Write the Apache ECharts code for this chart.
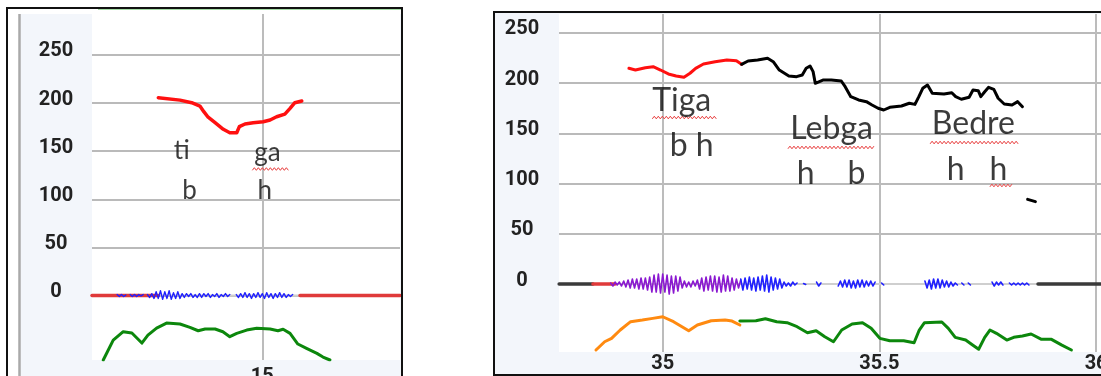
<!DOCTYPE html>
<html><head><meta charset="utf-8">
<script src="https://cdn.jsdelivr.net/npm/echarts@6/dist/echarts.min.js"></script>
<style>html,body{margin:0;padding:0;background:#fff}#c{width:1101px;height:376px}</style>
</head><body><div id="c"></div>
<script>
// ---------------- data ----------------
const yTicks = [0, 50, 100, 150, 200, 250];
const leftXTicks = [15];
const rightXTicks = [35, 35.5, 36];

// left panel (time s, Hz)
const leftPitch = [[14.760,205.6],[14.810,203.1],[14.837,200.4],[14.856,196.9],[14.865,191.1],[14.875,185.3],[14.891,179.6],[14.910,172.8],[14.925,169.2],[14.941,169.2],[14.947,175.5],[14.960,178.3],[14.979,179.6],[15.002,180.6],[15.018,182.4],[15.033,185.8],[15.052,188.6],[15.064,194.5],[15.075,200.4],[15.091,202.2]];
const leftIntensity = [[14.633,-67.0],[14.656,-46.3],[14.679,-37.6],[14.699,-39.0],[14.722,-49.4],[14.736,-41.1],[14.756,-33.8],[14.779,-28.6],[14.810,-29.6],[14.833,-33.1],[14.852,-36.6],[14.868,-34.8],[14.891,-34.8],[14.909,-37.6],[14.925,-42.8],[14.941,-39.3],[14.964,-35.9],[14.987,-34.1],[15.018,-34.8],[15.036,-36.6],[15.048,-35.1],[15.064,-39.3],[15.082,-50.4],[15.102,-54.9],[15.126,-60.1],[15.140,-63.9],[15.156,-67.0]];
const leftBaselineFull = [[14.607,15.318]];
const leftBaselineRed = [[14.607,14.760],[15.087,15.318]];
const leftWaveStart = 14.665, leftWaveStep = 0.005;
const leftWave = [1,-1,1,-1,0.5,null,1,-1,1,-1,1,-0.5,1,
  null,1,-2,2,
  -3,4,-3,5,-4,4,-3,5,-4,3,-3,4,-3,
  2,-2,2,-1,2,-2,1,-2,2,
  -2,2,-1,2,-2,1,-1,2,-2,1,-1,2,-1,1,
  null,null,1,
  -2,2,-2,3,-2,2,-3,2,-2,3,-2,2,-3,3,-2,2,-3,2,-2,3,-2,2,-2,1,-1,1];
const leftWords = [
  {t:14.815, v:150.0, text:'ti'},
  {t:15.013, v:148.0, text:'ga'},
  {t:14.833, v:108.5, text:'b'},
  {t:15.007, v:108.5, text:'h'}
];
const leftUnderlines = [[14.977, 15.062, 131.5]];

// right panel
const rightPitchRed = [[34.922,214.8],[34.937,213.1],[34.960,215.4],[34.978,216.4],[34.995,213.1],[35.013,209.2],[35.031,207.2],[35.049,205.9],[35.063,209.9],[35.076,214.8],[35.094,219.1],[35.121,221.4],[35.148,223.1],[35.170,222.4],[35.182,218.8]];
const rightPitchBlack = [[35.182,218.8],[35.197,222.1],[35.219,223.1],[35.242,224.8],[35.255,221.4],[35.269,213.1],[35.291,207.2],[35.309,206.5],[35.322,208.2],[35.331,214.8],[35.340,217.1],[35.347,211.5],[35.352,199.9],[35.371,203.2],[35.389,203.2],[35.412,202.2],[35.421,196.5],[35.434,186.6],[35.452,183.3],[35.470,181.6],[35.483,178.3],[35.497,175.0],[35.510,173.3],[35.524,176.0],[35.551,177.3],[35.569,180.0],[35.582,178.9],[35.591,186.6],[35.600,194.9],[35.611,198.2],[35.622,190.0],[35.649,189.2],[35.667,190.5],[35.676,186.6],[35.689,184.0],[35.707,186.0],[35.716,193.2],[35.728,192.5],[35.734,186.6],[35.743,191.5],[35.752,195.9],[35.764,193.9],[35.774,185.0],[35.788,179.3],[35.806,178.3],[35.819,181.6],[35.830,176.6]];
const rightPitchDash = [[35.842,84.3],[35.860,82.0]];
const rightIntensityOrange = [[34.846,-65.7],[34.866,-57.5],[34.882,-54.1],[34.902,-45.8],[34.926,-37.5],[34.953,-35.9],[34.977,-34.2],[35.000,-32.6],[35.025,-37.5],[35.060,-46.5],[35.080,-40.8],[35.112,-36.6],[35.144,-35.9],[35.160,-36.9],[35.178,-40.8]];
const rightIntensityGreen = [[35.178,-36.9],[35.215,-36.6],[35.237,-34.6],[35.263,-37.5],[35.287,-38.5],[35.310,-42.5],[35.334,-48.5],[35.354,-46.5],[35.374,-52.5],[35.394,-57.5],[35.413,-45.8],[35.437,-39.8],[35.461,-38.5],[35.481,-44.1],[35.501,-54.1],[35.524,-56.5],[35.556,-56.5],[35.580,-58.5],[35.592,-45.8],[35.604,-38.5],[35.644,-37.8],[35.659,-44.1],[35.675,-53.1],[35.699,-55.8],[35.715,-60.8],[35.729,-65.0],[35.743,-53.1],[35.755,-45.8],[35.770,-49.1],[35.794,-55.8],[35.810,-53.1],[35.830,-51.8],[35.850,-49.8],[35.874,-55.1],[35.897,-55.1],[35.921,-60.8],[35.943,-65.7]];
const rightBaselineFull = [[34.761,36.02]];
const rightBaselineDark = [[34.761,34.839],[35.866,36.02]];
const rightBaselineRed = [[34.839,34.890]];
const rightPurpleStart = 34.880, rightPurpleStep = 0.005;
const rightPurpleWave = [1,-2,2,-1,2,-2,3,
  -3,4,-4,5,-4,5,-5,6,-5,6,-6,7,
  -8,9,-8,10,-9,10,-8,9,-10,8,-9,8,-7,7,
  -4,3,-3,2,-3,3,-2,4,
  -5,6,-7,7,-6,8,-7,8,-8,7,-8,9,-7,8,-7,6,-6,
  5,-4,4];
const rightBlueStart = 35.180, rightBlueStep = 0.005;
const rightBlueWave = [5,-6,6,-5,7,-6,6,-7,7,-6,8,-7,9,-8,7,-6,6,-5,5,-4,
  2,-2,1,-2,2,-1,1,
  null,null,0.5,-0.5,null,null,null,null,
  2,-2,1,
  null,null,null,null,null,null,null,
  -2,3,-3,4,-3,4,-4,3,-4,4,-3,4,-3,3,-2,3,-2,2,
  null,null,
  1,-1,
  null,null,null,null,null,null,null,null,null,null,null,null,null,null,null,null,null,null,
  3,-4,4,-5,5,-4,5,-4,4,-3,3,-3,2,-2,
  1,-1,null,1,-1,null,1,-1,
  null,null,null,null,null,null,null,null,null,
  2,-2,2,-1,2,-1,
  null,null,
  1,-1,1,-1,1,-1,1,-1,1,-1,
  null,null,null,null];
const rightWords = [
  {t:35.045, v:181.6, text:'Tiga'},
  {t:35.068, v:136.8, text:'b h'},
  {t:35.391, v:153.7, text:'Lebga'},
  {t:35.331, v:108.9, text:'h'},
  {t:35.448, v:108.9, text:'b'},
  {t:35.718, v:158.7, text:'Bedre'},
  {t:35.677, v:113.8, text:'h'},
  {t:35.776, v:113.8, text:'h'}
];
const rightUnderlines = [[34.976,35.125,165.8],[35.289,35.491,136.0],[35.617,35.822,140.9],[35.755,35.808,98.1]];

// ---------------- helpers ----------------
function waveData(start, step, vals){
  return vals.map((v,i)=>[start + i*step, v === null ? '-' : v]);
}
function spans(list){
  return list.map(s => [[s[0],0],[s[1],0]]);
}
function lineSeries(gi, data, color, width, z){
  return {type:'line', xAxisIndex:gi, yAxisIndex:gi, data:data, symbol:'none', silent:true,
    connectNulls:false, animation:false, z:z||2,
    lineStyle:{color:color, width:width, join:'round', cap:'round'}};
}
function spanSeries(gi, list, color, width, z){
  return spans(list).map(d => lineSeries(gi, d, color, width, z));
}
function wordSeries(gi, words, size){
  return {type:'scatter', xAxisIndex:gi, yAxisIndex:gi, symbolSize:1, silent:true, z:10, animation:false,
    itemStyle:{color:'rgba(0,0,0,0)'},
    data: words.map(w => ({value:[w.t,w.v], name:w.text})),
    label:{show:true, position:[0,0], align:'center', verticalAlign:'middle', formatter:'{b}',
      fontFamily:'Lato', fontSize:size, color:'#0a0a0a'},
    labelLayout:{hideOverlap:false}};
}
function underlineSeries(gi, list){
  return {type:'custom', xAxisIndex:gi, yAxisIndex:gi, silent:true, z:9, animation:false,
    encode:{x:[0,1], y:2}, data:list,
    renderItem:function(params, api){
      const p0 = api.coord([api.value(0), api.value(2)]);
      const p1 = api.coord([api.value(1), api.value(2)]);
      const pts = [];
      let k = 0;
      for (let x = p0[0]; x <= p1[0]; x += 2, k++) pts.push([x, p0[1] + (k % 2 ? -1.3 : 1.3)]);
      return {type:'polyline', shape:{points:pts}, style:{stroke:'#e83c3c', lineWidth:1, fill:null}};
    }};
}
const axisFont = {fontFamily:'Roboto', fontWeight:'bold', fontSize:20, color:'#222222'};
function yAxis(gi, min, max, margin){
  return {type:'value', gridIndex:gi, min:min, max:max,
    axisLine:{show:false}, axisTick:{show:false, customValues:yTicks},
    splitLine:{show:true, lineStyle:{color:'#a3a3a3', width:1.5}},
    axisLabel:Object.assign({customValues:yTicks, margin:margin, align:'center', verticalAlign:'bottom', lineHeight:7}, axisFont)};
}
function xAxis(gi, min, max, ticks, margin){
  return {type:'value', gridIndex:gi, min:min, max:max,
    axisLine:{show:false}, axisTick:{show:false, customValues:ticks},
    splitLine:{show:true, lineStyle:{color:'#bcbcbc', width:2}},
    axisLabel:Object.assign({customValues:ticks, margin:margin}, axisFont)};
}

const chart = echarts.init(document.getElementById('c'), null, {renderer:'canvas'});
const series = [].concat(
  spanSeries(0, leftBaselineFull, '#cfcfcf', 2, 1),
  spanSeries(0, leftBaselineRed, '#e03a3a', 3.5, 2),
  [lineSeries(0, waveData(leftWaveStart, leftWaveStep, leftWave), '#2020ff', 1.4, 3)],
  [lineSeries(0, leftIntensity, '#0c870c', 3, 4)],
  [lineSeries(0, leftPitch, '#ff1010', 3.5, 5)],
  [wordSeries(0, leftWords, 26), underlineSeries(0, leftUnderlines)],
  spanSeries(1, rightBaselineFull, '#cfcfcf', 2, 1),
  spanSeries(1, rightBaselineDark, '#3a3a3a', 3.5, 2),
  spanSeries(1, rightBaselineRed, '#e03a3a', 3.5, 2),
  [lineSeries(1, waveData(rightPurpleStart, rightPurpleStep, rightPurpleWave), '#8a18d0', 1.6, 3)],
  [lineSeries(1, waveData(rightBlueStart, rightBlueStep, rightBlueWave), '#2020ff', 1.6, 3)],
  [lineSeries(1, rightIntensityOrange, '#ff8a10', 3, 4)],
  [lineSeries(1, rightIntensityGreen, '#0c870c', 3, 4)],
  [lineSeries(1, rightPitchRed, '#ff1010', 3, 5)],
  [lineSeries(1, rightPitchBlack, '#000000', 3, 5)],
  [lineSeries(1, rightPitchDash, '#000000', 3, 5)],
  [wordSeries(1, rightWords, 32), underlineSeries(1, rightUnderlines)]
);

chart.setOption({
  animation:false,
  backgroundColor:'#ffffff',
  grid:[
    {left:92, top:14, width:308, height:346, show:true, backgroundColor:'#ffffff', borderWidth:0, containLabel:false, outerBoundsMode:'none'},
    {left:559, top:14, width:542, height:338, show:true, backgroundColor:'#ffffff', borderWidth:0, containLabel:false, outerBoundsMode:'none'}
  ],
  xAxis:[xAxis(0, 14.607, 15.3177, leftXTicks, 7), xAxis(1, 34.7607, 36.0113, rightXTicks, 2)],
  yAxis:[yAxis(0, -67.0, 292.6, 36), yAxis(1, -67.7, 268.9, 37)],
  graphic:[
    {type:'rect', z:-10, silent:true, shape:{x:20.5, y:14, width:381, height:370}, style:{fill:'#f3f6fb'}},
    {type:'line', z:-9, silent:true, shape:{x1:19.5, y1:14, x2:19.5, y2:376}, style:{stroke:'#a9a9a9', lineWidth:2.5}},
    {type:'line', z:-9, silent:true, shape:{x1:98, y1:9.5, x2:401, y2:9.5}, style:{stroke:'#a6dca6', lineWidth:1}},
    {type:'rect', z:50, silent:true, shape:{x:7, y:8, width:395, height:390}, style:{fill:null, stroke:'#111111', lineWidth:2}},
    {type:'rect', z:-10, silent:true, shape:{x:495, y:13, width:606, height:361}, style:{fill:'#f3f6fb'}},
    {type:'rect', z:50, silent:true, shape:{x:494, y:12, width:640, height:363}, style:{fill:null, stroke:'#111111', lineWidth:2}}
  ],
  series: series
});
</script>
</body></html>
